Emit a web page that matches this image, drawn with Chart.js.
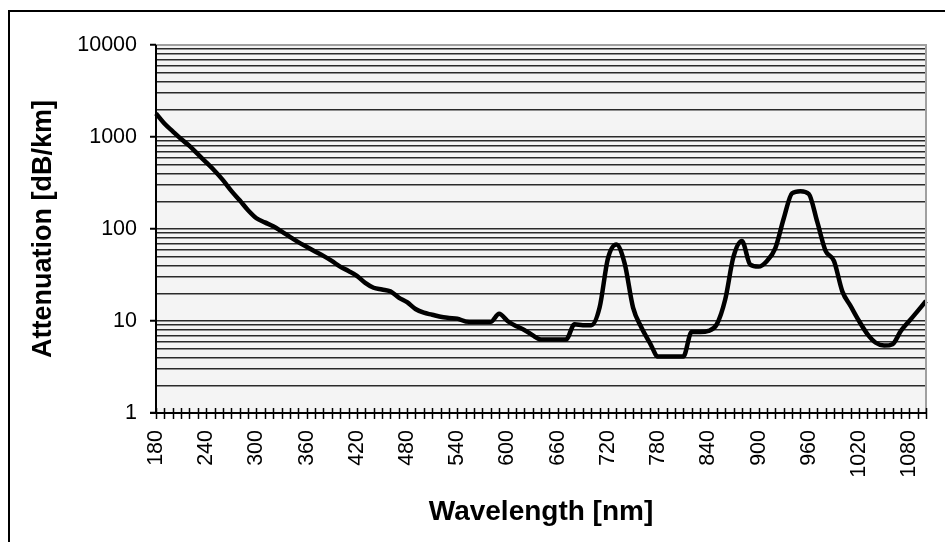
<!DOCTYPE html>
<html>
<head>
<meta charset="utf-8">
<script src="https://cdn.jsdelivr.net/npm/chart.js@4.4.1/dist/chart.umd.min.js"></script>
<style>
  html, body { margin: 0; padding: 0; background: #ffffff; }
  #wrap { width: 945px; height: 542px; position: relative; }
</style>
</head>
<body>
<div id="wrap"><canvas id="c" width="945" height="542"></canvas></div>
<script>
const wavelengths = [
  180,190,200,210,220,230,240,250,260,270,
  280,290,300,310,320,330,340,350,360,370,
  380,390,400,410,420,430,440,450,460,470,
  480,490,500,510,520,530,540,550,560,570,
  580,590,600,610,620,630,640,650,660,670,
  680,690,700,710,720,730,740,750,760,770,
  780,790,800,810,820,830,840,850,860,870,
  880,890,900,910,920,930,940,950,960,970,
  980,990,1000,1010,1020,1030,1040,1050,1060,1070,
  1080,1090,1100
];
const attenuation = [
  1800,1400,1150,950,800,650,530,430,340,260,
  205,160,131,118,107,94,82,72,64,57,
  51,45,39,35,31,26,23,22,21,18,
  16,13.5,12.3,11.7,11.1,10.8,10.6,9.9,9.8,9.8,
  9.8,12,10,8.8,8,7,6.3,6.3,6.3,6.3,
  9.2,9,9,14,48,68,42,14,8.5,5.8,
  4.1,4.1,4.1,4.1,7.6,7.6,7.8,9.2,17,50,
  74,41,39,45,62,130,245,258,240,120,
  58,45,21,14.5,10,7.2,5.8,5.4,5.6,7.8,
  10,12.8,16.5
];
const xLabelStep = 60;
const yMajorTicks = [1, 10, 100, 1000, 10000];
const xTitle = 'Wavelength [nm]';
const yTitle = 'Attenuation [dB/km]';

const yAllTicks = [];
yMajorTicks.forEach((m, i) => {
  if (i < yMajorTicks.length - 1) {
    for (let k = 1; k < 10; k++) yAllTicks.push(m * k);
  } else {
    yAllTicks.push(m);
  }
});

const frame = {
  id: 'frame',
  beforeDraw(chart) {
    const {ctx, chartArea: a} = chart;
    ctx.save();
    ctx.fillStyle = '#f4f4f4';
    ctx.fillRect(a.left, a.top, a.right - a.left, a.bottom - a.top);
    ctx.strokeStyle = '#000';
    ctx.lineWidth = 2;
    ctx.beginPath();
    ctx.moveTo(9, 542);
    ctx.lineTo(9, 11);
    ctx.lineTo(945, 11);
    ctx.stroke();
    ctx.restore();
  },
  afterDraw(chart) {
    const {ctx, chartArea: a} = chart;
    const xs = chart.scales.x;
    ctx.save();
    ctx.strokeStyle = '#a0a0a0';
    ctx.lineWidth = 2;
    ctx.beginPath();
    ctx.moveTo(a.left, a.top);
    ctx.lineTo(a.right, a.top);
    ctx.lineTo(a.right, a.bottom);
    ctx.stroke();
    ctx.strokeStyle = '#000';
    ctx.lineWidth = 1.5;
    ctx.beginPath();
    xs.ticks.forEach((t, i) => {
      const px = Math.round(xs.getPixelForTick(i)) + 0.5;
      ctx.moveTo(px, a.bottom - 5);
      ctx.lineTo(px, a.bottom + 6);
    });
    ctx.stroke();
    ctx.beginPath();
    ctx.lineWidth = 2;
    ctx.moveTo(a.left - 6, a.bottom);
    ctx.lineTo(a.right, a.bottom);
    ctx.moveTo(a.left, a.top);
    ctx.lineTo(a.left, a.bottom);
    ctx.stroke();
    ctx.restore();
  }
};

new Chart(document.getElementById('c'), {
  type: 'line',
  data: {
    labels: wavelengths.map(String),
    datasets: [{
      data: attenuation,
      borderColor: '#000',
      borderWidth: 4.5,
      pointRadius: 0,
      cubicInterpolationMode: 'monotone',
      fill: false
    }]
  },
  options: {
    responsive: false,
    animation: false,
    devicePixelRatio: 1,
    layout: { padding: { left: 0, top: 45, right: 19, bottom: 0 } },
    plugins: { legend: { display: false }, tooltip: { enabled: false } },
    scales: {
      x: {
        type: 'category',
        offset: false,
        grid: { display: true, drawOnChartArea: false, drawTicks: false },
        border: { display: false },
        ticks: {
          autoSkip: false,
          minRotation: 90,
          maxRotation: 90,
          padding: 17,
          color: '#000',
          font: { family: 'Liberation Sans, Arial, sans-serif', size: 21.5 },
          callback(value, index) {
            const w = wavelengths[index];
            return (w - wavelengths[0]) % xLabelStep === 0 ? String(w) : '';
          }
        },
        title: {
          display: true,
          text: xTitle,
          color: '#000',
          font: { family: 'Liberation Sans, Arial, sans-serif', size: 28, weight: 'bold' },
          padding: { top: 0, bottom: 13 }
        },
        afterFit(scale) {
          scale.height = 129;
          scale.paddingLeft = 0;
          scale.paddingRight = 0;
        }
      },
      y: {
        type: 'logarithmic',
        min: 1,
        max: 10000,
        afterBuildTicks(scale) {
          scale.ticks = yAllTicks.map(v => ({ value: v, major: yMajorTicks.includes(v) }));
        },
        grid: {
          color: '#2a2a2a',
          lineWidth: 1.5,
          drawTicks: true,
          tickLength: 6,
          tickColor: c => (c.tick && yMajorTicks.includes(c.tick.value)) ? '#000' : 'rgba(0,0,0,0)',
          tickWidth: 2
        },
        border: { display: false },
        ticks: {
          autoSkip: false,
          padding: 13,
          color: '#000',
          font: { family: 'Liberation Sans, Arial, sans-serif', size: 21.5 },
          callback(value) {
            return yMajorTicks.includes(value) ? String(value) : '';
          }
        },
        title: {
          display: true,
          text: yTitle,
          color: '#000',
          font: { family: 'Liberation Sans, Arial, sans-serif', size: 27, weight: 'bold' },
          padding: { top: 27, bottom: 0 }
        },
        afterFit(scale) {
          scale.width = 156;
          scale.paddingTop = 0;
          scale.paddingBottom = 0;
        }
      }
    }
  },
  plugins: [frame]
});
</script>
</body>
</html>
